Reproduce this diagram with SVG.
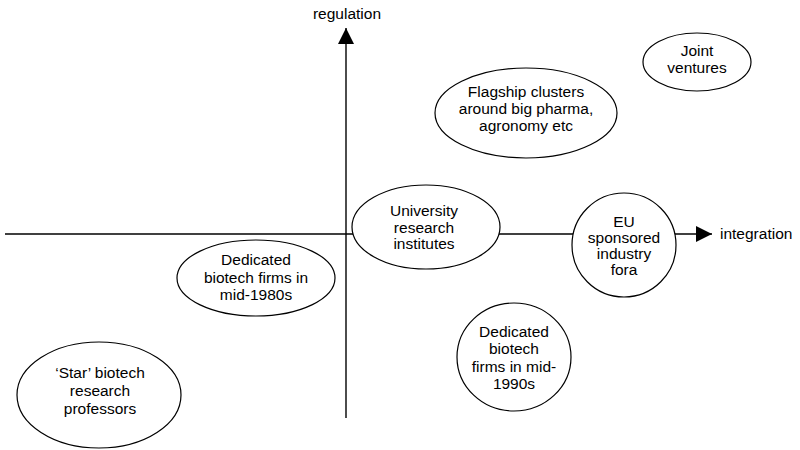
<svg xmlns="http://www.w3.org/2000/svg" width="800" height="450" viewBox="0 0 800 450">
  <defs>
    <marker id="arrow" viewBox="0 0 16 16" refX="16" refY="8" markerWidth="16" markerHeight="16" markerUnits="userSpaceOnUse" orient="auto">
      <path d="M0,0 L16,8 L0,16 Z" fill="#000"/>
    </marker>
    <style>
      .axis { stroke: #000; stroke-width: 1.4; fill: none; }
      .node { fill: #fff; stroke: #000; stroke-width: 1.2; }
      text { font-family: "Liberation Sans", Arial, sans-serif; font-size: 15.5px; fill: #000; }
      .c { text-anchor: middle; }
    </style>
  </defs>
  <rect width="800" height="450" fill="#fff"/>

  <!-- axes -->
  <g id="connectors">
    <line class="axis" x1="346" y1="418" x2="346" y2="28" marker-end="url(#arrow)"/>
    <line class="axis" x1="5" y1="234" x2="712" y2="234" marker-end="url(#arrow)"/>
  </g>

  <text id="label-regulation" x="347" y="19" class="c">regulation</text>
  <text id="label-integration" x="720" y="239">integration</text>

  <g id="flagship">
    <ellipse class="node" cx="526" cy="113" rx="91" ry="45"/>
    <text class="c" x="526" y="97">Flagship clusters</text>
    <text class="c" x="526" y="114">around big pharma,</text>
    <text class="c" x="526" y="131">agronomy etc</text>
  </g>

  <g id="joint-ventures">
    <ellipse class="node" cx="697" cy="62" rx="54" ry="29"/>
    <text class="c" x="697" y="56">Joint</text>
    <text class="c" x="697" y="73">ventures</text>
  </g>

  <g id="university">
    <ellipse class="node" cx="426" cy="227" rx="74" ry="42"/>
    <text class="c" x="424" y="216">University</text>
    <text class="c" x="424" y="233">research</text>
    <text class="c" x="424" y="249">institutes</text>
  </g>

  <g id="eu-fora">
    <ellipse class="node" cx="624" cy="245" rx="52" ry="52"/>
    <text class="c" x="624" y="227">EU</text>
    <text class="c" x="624" y="243">sponsored</text>
    <text class="c" x="624" y="259">industry</text>
    <text class="c" x="624" y="275">fora</text>
  </g>

  <g id="dbf-1980s">
    <ellipse class="node" cx="256" cy="278" rx="79" ry="38"/>
    <text class="c" x="256" y="265">Dedicated</text>
    <text class="c" x="256" y="283">biotech firms in</text>
    <text class="c" x="256" y="300">mid-1980s</text>
  </g>

  <g id="dbf-1990s">
    <ellipse class="node" cx="514" cy="357" rx="57" ry="54"/>
    <text class="c" x="514" y="337">Dedicated</text>
    <text class="c" x="514" y="354">biotech</text>
    <text class="c" x="514" y="372">firms in mid-</text>
    <text class="c" x="514" y="389">1990s</text>
  </g>

  <g id="star-professors">
    <ellipse class="node" cx="99" cy="395" rx="82" ry="53"/>
    <text class="c" x="100" y="378">‘Star’ biotech</text>
    <text class="c" x="100" y="396">research</text>
    <text class="c" x="100" y="414">professors</text>
  </g>
</svg>
